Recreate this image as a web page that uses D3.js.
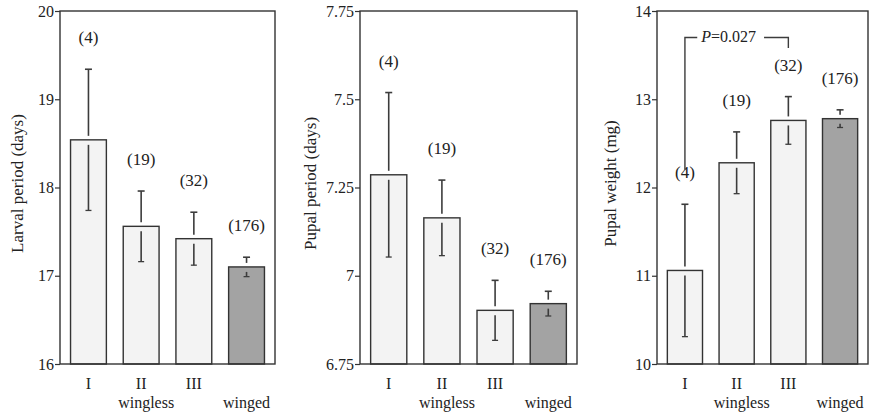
<!DOCTYPE html>
<html>
<head>
<meta charset="utf-8">
<script src="https://cdn.jsdelivr.net/npm/d3@7"></script>
<style>
  body { margin: 0; background: #fff; }
  svg text { font-family: "Liberation Serif", "Times New Roman", "DejaVu Serif", serif; }
</style>
</head>
<body>
<svg id="chart" width="872" height="416"></svg>
<script>
// groups along the x axis
const GROUPS = ['I', 'II', 'III', 'winged'];
const SUBLABELS = ['', 'wingless', '', 'winged'];
const SAMPLE_SIZES = [4, 19, 32, 176];

// larval period (days)
const larvalMean = [18.54, 17.56, 17.42, 17.10];
const larvalErr = [0.80, 0.40, 0.30, 0.11];
// pupal period (days)
const pupalMean = [7.286, 7.164, 6.902, 6.921];
const pupalErr = [0.233, 0.107, 0.085, 0.035];
// pupal weight (mg)
const weightMean = [11.06, 12.28, 12.76, 12.78];
const weightErr = [0.75, 0.35, 0.27, 0.10];

const larvalTicks = [16, 17, 18, 19, 20];
const pupalTicks = [6.75, 7, 7.25, 7.5, 7.75];
const weightTicks = [10, 11, 12, 13, 14];

// significance bracket between I and III on the weight panel
const bracket = { from: 0, to: 2, top: 13.70, leftEnd: 12.2, rightEnd: 13.58, p: '0.027' };

const TOP = 11, BOTTOM = 364;
const FONT = '"Liberation Serif", "Times New Roman", serif';

const panels = [
  { left: 60, right: 275, title: 'Larval period (days)', domain: [16, 20], ticks: larvalTicks,
    mean: larvalMean, err: larvalErr, labelX: 18 },
  { left: 360, right: 577, title: 'Pupal period (days)', domain: [6.75, 7.75], ticks: pupalTicks,
    mean: pupalMean, err: pupalErr, labelX: 311 },
  { left: 657, right: 868, title: 'Pupal weight (mg)', domain: [10, 14], ticks: weightTicks,
    mean: weightMean, err: weightErr, labelX: 611, bracket: bracket },
];

const svg = d3.select('#chart').attr('font-family', FONT);
const ink = '#333';

panels.forEach(p => {
  const g = svg.append('g');
  const x = d3.scaleBand()
    .domain(GROUPS)
    .range([p.left, p.right])
    .paddingInner(0.32)
    .paddingOuter(0.2);
  const y = d3.scaleLinear()
    .domain(p.domain)
    .range([BOTTOM, TOP]);

  const rows = GROUPS.map((k, i) => ({ k, i, mean: p.mean[i], err: p.err[i], n: SAMPLE_SIZES[i] }));

  // bars
  g.selectAll('rect.bar')
    .data(rows)
    .join('rect')
    .attr('class', 'bar')
    .attr('x', d => x(d.k))
    .attr('width', x.bandwidth())
    .attr('y', d => y(d.mean))
    .attr('height', d => y(p.domain[0]) - y(d.mean))
    .attr('fill', d => d.k === 'winged' ? '#a3a3a3' : '#f3f3f3')
    .attr('stroke', ink)
    .attr('stroke-width', 1.4);

  // error bars, broken around the bar top
  const eb = g.selectAll('g.err')
    .data(rows)
    .join('g')
    .attr('class', 'err')
    .attr('stroke', '#3c3c3c')
    .attr('stroke-width', 1.6);
  const cx = d => x(d.k) + x.bandwidth() / 2;
  eb.append('line')
    .attr('x1', cx).attr('x2', cx)
    .attr('y1', d => y(d.mean + d.err))
    .attr('y2', d => Math.max(y(d.mean + d.err), y(d.mean) - 4));
  eb.append('line')
    .attr('x1', cx).attr('x2', cx)
    .attr('y1', d => Math.min(y(d.mean - d.err), y(d.mean) + 5))
    .attr('y2', d => y(d.mean - d.err));
  eb.append('line')
    .attr('x1', d => cx(d) - 3.5).attr('x2', d => cx(d) + 3.5)
    .attr('y1', d => y(d.mean + d.err)).attr('y2', d => y(d.mean + d.err));
  eb.append('line')
    .attr('x1', d => cx(d) - 3).attr('x2', d => cx(d) + 3)
    .attr('y1', d => y(d.mean - d.err)).attr('y2', d => y(d.mean - d.err))
    .attr('stroke-width', 1.3);

  // sample sizes
  g.selectAll('text.n')
    .data(rows)
    .join('text')
    .attr('class', 'n')
    .attr('x', cx)
    .attr('y', d => y(d.mean + d.err) - 26)
    .attr('text-anchor', 'middle')
    .attr('font-size', 17)
    .attr('fill', '#222')
    .text(d => `(${d.n})`);

  // frame
  g.append('rect')
    .attr('x', p.left).attr('y', TOP)
    .attr('width', p.right - p.left).attr('height', BOTTOM - TOP)
    .attr('fill', 'none')
    .attr('stroke', ink)
    .attr('stroke-width', 1.4);

  // y axis
  const yAxis = d3.axisLeft(y)
    .tickValues(p.ticks)
    .tickSize(5)
    .tickPadding(1)
    .tickFormat(d3.format('~g'));
  g.append('g')
    .attr('transform', `translate(${p.left},0)`)
    .call(yAxis)
    .attr('font-family', FONT)
    .attr('font-size', 16)
    .call(a => a.select('.domain').remove())
    .call(a => a.selectAll('.tick line').attr('stroke', ink).attr('stroke-width', 1.2))
    .call(a => a.selectAll('.tick text').attr('fill', '#222'));

  // x labels
  g.selectAll('text.grp')
    .data(rows.filter(d => d.k !== 'winged'))
    .join('text')
    .attr('class', 'grp')
    .attr('x', cx)
    .attr('y', 389)
    .attr('text-anchor', 'middle')
    .attr('font-size', 16)
    .attr('fill', '#222')
    .text(d => d.k);
  g.selectAll('text.sub')
    .data(rows.filter(d => SUBLABELS[d.i]))
    .join('text')
    .attr('class', 'sub')
    .attr('x', d => cx(d) + (d.k === 'winged' ? 0 : 5))
    .attr('y', 408)
    .attr('text-anchor', 'middle')
    .attr('font-size', 16)
    .attr('fill', '#222')
    .text(d => SUBLABELS[d.i]);

  // axis title
  g.append('text')
    .attr('transform', `translate(${p.labelX + 5},${(TOP + BOTTOM) / 2 - 4}) rotate(-90)`)
    .attr('text-anchor', 'middle')
    .attr('font-size', 17)
    .attr('fill', '#222')
    .text(p.title);

  if (p.bracket) {
    const b = p.bracket;
    const xl = cx(rows[b.from]), xr = cx(rows[b.to]);
    const yt = y(b.top);
    const t = g.append('text')
      .attr('x', (xl + xr) / 2 - 8)
      .attr('y', yt + 5)
      .attr('text-anchor', 'middle')
      .attr('font-size', 16)
      .attr('fill', '#222');
    t.append('tspan').attr('font-style', 'italic').text('P');
    t.append('tspan').text('=' + b.p);
    const bb = t.node().getBBox();
    g.append('path')
      .attr('d', `M${xl},${y(b.leftEnd)}V${yt}H${bb.x - 3}`)
      .attr('fill', 'none').attr('stroke', '#3c3c3c').attr('stroke-width', 1.4);
    g.append('path')
      .attr('d', `M${bb.x + bb.width + 8},${yt}H${xr}V${y(b.rightEnd)}`)
      .attr('fill', 'none').attr('stroke', '#3c3c3c').attr('stroke-width', 1.4);
  }
});
</script>
</body>
</html>
